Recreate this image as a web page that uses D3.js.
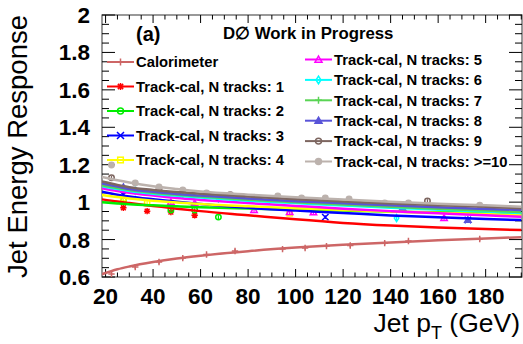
<!DOCTYPE html>
<html><head><meta charset="utf-8">
<script src="https://cdn.jsdelivr.net/npm/d3@7"></script>
<style>body{margin:0;background:#fff}svg{display:block}</style>
</head><body><svg id="c" width="523" height="344"></svg>
<script>
// ---- data ----
const xTicks = [20,40,60,80,100,120,140,160,180];
const yTicks = [0.6,0.8,1,1.2,1.4,1.6,1.8,2];
const seriesNames = ["Calorimeter","Track-cal, N tracks: 1","Track-cal, N tracks: 2","Track-cal, N tracks: 3","Track-cal, N tracks: 4","Track-cal, N tracks: 5","Track-cal, N tracks: 6","Track-cal, N tracks: 7","Track-cal, N tracks: 8","Track-cal, N tracks: 9","Track-cal, N tracks: >=10"];
const fitX = [18.5,25,30,40,50,60,80,100,120,140,160,180,195];
const fitCalo = [0.615,0.641,0.656,0.680,0.699,0.714,0.738,0.757,0.772,0.785,0.796,0.806,0.813];
const fit1  = [1.015,1.003,0.995,0.980,0.965,0.952,0.930,0.908,0.889,0.875,0.864,0.856,0.851];
const fit2  = [0.999,0.993,0.989,0.983,0.978,0.973,0.966,0.960,0.955,0.950,0.946,0.943,0.940];
const fit3  = [1.056,1.040,1.030,1.015,1.002,0.990,0.970,0.955,0.942,0.929,0.919,0.910,0.904];
const fit4  = [1.038,1.027,1.020,1.008,0.998,0.990,0.978,0.968,0.958,0.950,0.943,0.936,0.931];
const fit5  = [1.075,1.060,1.050,1.035,1.022,1.012,0.995,0.980,0.965,0.952,0.940,0.930,0.922];
const fit6  = [1.085,1.070,1.060,1.045,1.034,1.025,1.008,0.995,0.982,0.970,0.960,0.950,0.942];
const fit7  = [1.090,1.075,1.065,1.050,1.039,1.030,1.013,1.000,0.988,0.976,0.965,0.955,0.947];
const fit8  = [1.100,1.083,1.070,1.055,1.044,1.035,1.020,1.005,0.994,0.983,0.973,0.964,0.958];
const fit9  = [1.110,1.092,1.080,1.065,1.054,1.045,1.030,1.015,1.003,0.993,0.984,0.975,0.968];
const fit10 = [1.135,1.117,1.105,1.085,1.070,1.057,1.040,1.026,1.014,1.002,0.992,0.983,0.975];

const ptsCaloX = [22.5,32.5,42.5,52.5,62.5,74.5,94.5,104,113,123,137.5,147.5,177.5];
const ptsCaloY = [0.616,0.653,0.680,0.701,0.720,0.739,0.749,0.755,0.765,0.768,0.781,0.792,0.803];
const pts1X = [27.5,37.5,47.5,57.5];           const pts1Y = [0.970,0.952,0.947,0.930];
const pts2X = [27.5,47.5,57.5,67.5];           const pts2Y = [1.010,0.958,0.958,0.920];
const pts3X = [27.5,112.5,172.5];              const pts3Y = [1.040,0.920,0.905];
const pts4X = [27.5,37.5,47.5,97.5];           const pts4Y = [1.020,0.995,0.995,0.940];
const pts5X = [47.5,57.5,82.5,97.5,107.5,162.5]; const pts5Y = [1.000,0.995,0.958,0.947,0.945,0.915];
const pts6X = [32.5,67.5,142.5];               const pts6Y = [1.060,1.020,0.915];
const pts7X = [37.5,52.5,89,172.5];            const pts7Y = [1.050,1.035,1.005,0.950];
const pts8X = [27.5,82.5,112.5,145,172.5];     const pts8Y = [1.080,1.020,1.005,0.970,0.905];
const pts9X = [22.5,42.5,72.5,155.5];          const pts9Y = [1.130,1.070,1.040,1.006];
const pts10X = [22.5,32.5,42.5,52.5,62.5,72.5,92.5,102.5,112.5,122.5,137.5,147.5,177.5];
const pts10Y = [1.198,1.102,1.081,1.065,1.049,1.038,1.033,1.022,1.022,1.017,0.995,0.995,0.984];

// ---- styles ----
const colors = ["#cd6666","#ff0000","#00ee00","#0000ff","#ffff00","#ff00ff","#00ffff","#59d454","#5954d8","#7d6660","#bcb2ad"];
const markers = ["plus","star","ocircle","x","osquare","otri","odiamond","plus","ftri","ocircle","fcircle"];
const fits = [fitCalo,fit1,fit2,fit3,fit4,fit5,fit6,fit7,fit8,fit9,fit10];
const ptsX = [ptsCaloX,pts1X,pts2X,pts3X,pts4X,pts5X,pts6X,pts7X,pts8X,pts9X,pts10X];
const ptsY = [ptsCaloY,pts1Y,pts2Y,pts3Y,pts4Y,pts5Y,pts6Y,pts7Y,pts8Y,pts9Y,pts10Y];

const svg = d3.select("#c");
const L = 102, R = 522, T = 15, B = 277;
const x = d3.scaleLinear().domain([18.5, 195.3]).range([L, R]);
const y = d3.scaleLinear().domain([0.6, 2]).range([B, T]);
const FONT = "'Liberation Sans', Arial, Helvetica, sans-serif";

svg.append("defs").append("clipPath").attr("id","clip")
  .append("rect").attr("x",L).attr("y",T).attr("width",R-L).attr("height",B-T);

// axes frame
svg.append("rect").attr("x",L).attr("y",T).attr("width",R-L).attr("height",B-T)
  .attr("fill","none").attr("stroke","#555").attr("stroke-width",1.2);

// ticks
const xMinor = d3.range(20,196,5);
const yMinor = d3.range(0.6,2.001,0.05);
const tk = svg.append("g").attr("stroke","#000").attr("stroke-width",1);
xMinor.forEach(v=>{
  const major = xTicks.includes(Math.round(v));
  const len = major?8:4.5;
  tk.append("line").attr("x1",x(v)).attr("x2",x(v)).attr("y1",B).attr("y2",B-len);
  tk.append("line").attr("x1",x(v)).attr("x2",x(v)).attr("y1",T).attr("y2",T+len);
});
yMinor.forEach(v=>{
  const major = yTicks.some(t=>Math.abs(t-v)<1e-6);
  const len = major?13:7;
  tk.append("line").attr("x1",L).attr("x2",L+len).attr("y1",y(v)).attr("y2",y(v));
  tk.append("line").attr("x1",R).attr("x2",R-len).attr("y1",y(v)).attr("y2",y(v));
});

// tick labels
svg.append("g").selectAll("text").data(xTicks).join("text")
  .attr("x",d=>x(d)).attr("y",304).attr("text-anchor","middle")
  .attr("font-family",FONT).attr("font-weight","bold").attr("font-size",22.5).text(d=>d);
svg.append("g").selectAll("text").data(yTicks).join("text")
  .attr("x",90).attr("y",d=>y(d)+8).attr("text-anchor","end")
  .attr("font-family",FONT).attr("font-weight","bold").attr("font-size",22.5).text(d=>d3.format("~g")(d));

// axis titles
const xt = svg.append("text").attr("x",520).attr("y",332).attr("text-anchor","end")
  .attr("font-family",FONT).attr("font-size",26.5);
xt.append("tspan").text("Jet p");
xt.append("tspan").attr("font-size",18).attr("dy",7).text("T");
xt.append("tspan").attr("dy",-7).text(" (GeV)");
svg.append("text").attr("transform","translate(27,15) rotate(-90)").attr("text-anchor","end")
  .attr("font-family",FONT).attr("font-size",27.5).text("Jet Energy Response");

// markers
function marker(g, type, cx, cy, color, s){
  const r = s;
  if(type==="plus"){
    g.append("path").attr("d",`M${cx-r},${cy}H${cx+r}M${cx},${cy-r}V${cy+r}`).attr("stroke",color).attr("stroke-width",1.5).attr("fill","none");
  } else if(type==="x"){
    g.append("path").attr("d",`M${cx-r},${cy-r}L${cx+r},${cy+r}M${cx-r},${cy+r}L${cx+r},${cy-r}`).attr("stroke",color).attr("stroke-width",1.5).attr("fill","none");
  } else if(type==="star"){
    const a=r*0.75;
    g.append("path").attr("d",`M${cx-r},${cy}H${cx+r}M${cx},${cy-r}V${cy+r}M${cx-a},${cy-a}L${cx+a},${cy+a}M${cx-a},${cy+a}L${cx+a},${cy-a}`).attr("stroke",color).attr("stroke-width",1.5).attr("fill","none");
  } else if(type==="ocircle"||type==="fcircle"){
    g.append("circle").attr("cx",cx).attr("cy",cy).attr("r",r*0.85).attr("stroke",color).attr("stroke-width",1.5)
      .attr("fill",type==="fcircle"?color:"none");
  } else if(type==="osquare"){
    g.append("rect").attr("x",cx-r*0.8).attr("y",cy-r*0.8).attr("width",r*1.6).attr("height",r*1.6).attr("stroke",color).attr("stroke-width",1.5).attr("fill","none");
  } else if(type==="otri"||type==="ftri"){
    g.append("path").attr("d",`M${cx},${cy-r}L${cx+r},${cy+r*0.75}L${cx-r},${cy+r*0.75}Z`).attr("stroke",color).attr("stroke-width",1.5)
      .attr("fill",type==="ftri"?color:"none");
  } else if(type==="odiamond"){
    g.append("path").attr("d",`M${cx},${cy-r*1.1}L${cx+r*0.7},${cy}L${cx},${cy+r*1.1}L${cx-r*0.7},${cy}Z`).attr("stroke",color).attr("stroke-width",1.5).attr("fill","none");
  }
}

// data
const plot = svg.append("g").attr("clip-path","url(#clip)");
const line = d3.line().x(d=>x(d[0])).y(d=>y(d[1])).curve(d3.curveMonotoneX);
const order = [0,1,2,3,4,5,6,7,8,9,10];
order.forEach(i=>{
  const g = plot.append("g");
  ptsX[i].forEach((px,j)=>{
    const cx=x(px), cy=y(ptsY[i][j]);
    g.append("line").attr("x1",cx).attr("x2",cx).attr("y1",y(ptsY[i][j]+0.01)).attr("y2",y(ptsY[i][j]-0.01)).attr("stroke",colors[i]).attr("stroke-width",1.2);
    marker(g, markers[i], cx, cy, colors[i], 3.2);
  });
});
order.forEach(i=>{
  plot.append("path").datum(fitX.map((v,j)=>[v,fits[i][j]])).attr("d",line)
    .attr("fill","none").attr("stroke",colors[i]).attr("stroke-width",2.5);
});

// labels
svg.append("text").attr("x",136).attr("y",41).attr("font-family",FONT).attr("font-weight","bold").attr("font-size",20).text("(a)");
svg.append("text").attr("x",223).attr("y",39).attr("font-family",FONT).attr("font-weight","bold").attr("font-size",16.8).text("D\u2205 Work in Progress");

// legends
const leg = svg.append("g");
function legendEntry(i, lx, cy){
  leg.append("line").attr("x1",lx).attr("x2",lx+27).attr("y1",cy).attr("y2",cy).attr("stroke",colors[i]).attr("stroke-width",2);
  marker(leg, markers[i], lx+13.5, cy, colors[i], 3.5);
  leg.append("text").attr("x",lx+29).attr("y",cy+5.3).attr("font-family",FONT).attr("font-weight","bold").attr("font-size",14.8).text(seriesNames[i]);
}
[0,1,2,3,4].forEach((i,k)=>legendEntry(i,107,62+k*24.5));
[5,6,7,8,9,10].forEach((i,k)=>legendEntry(i,305,59.5+k*20.4));
</script></body></html>
